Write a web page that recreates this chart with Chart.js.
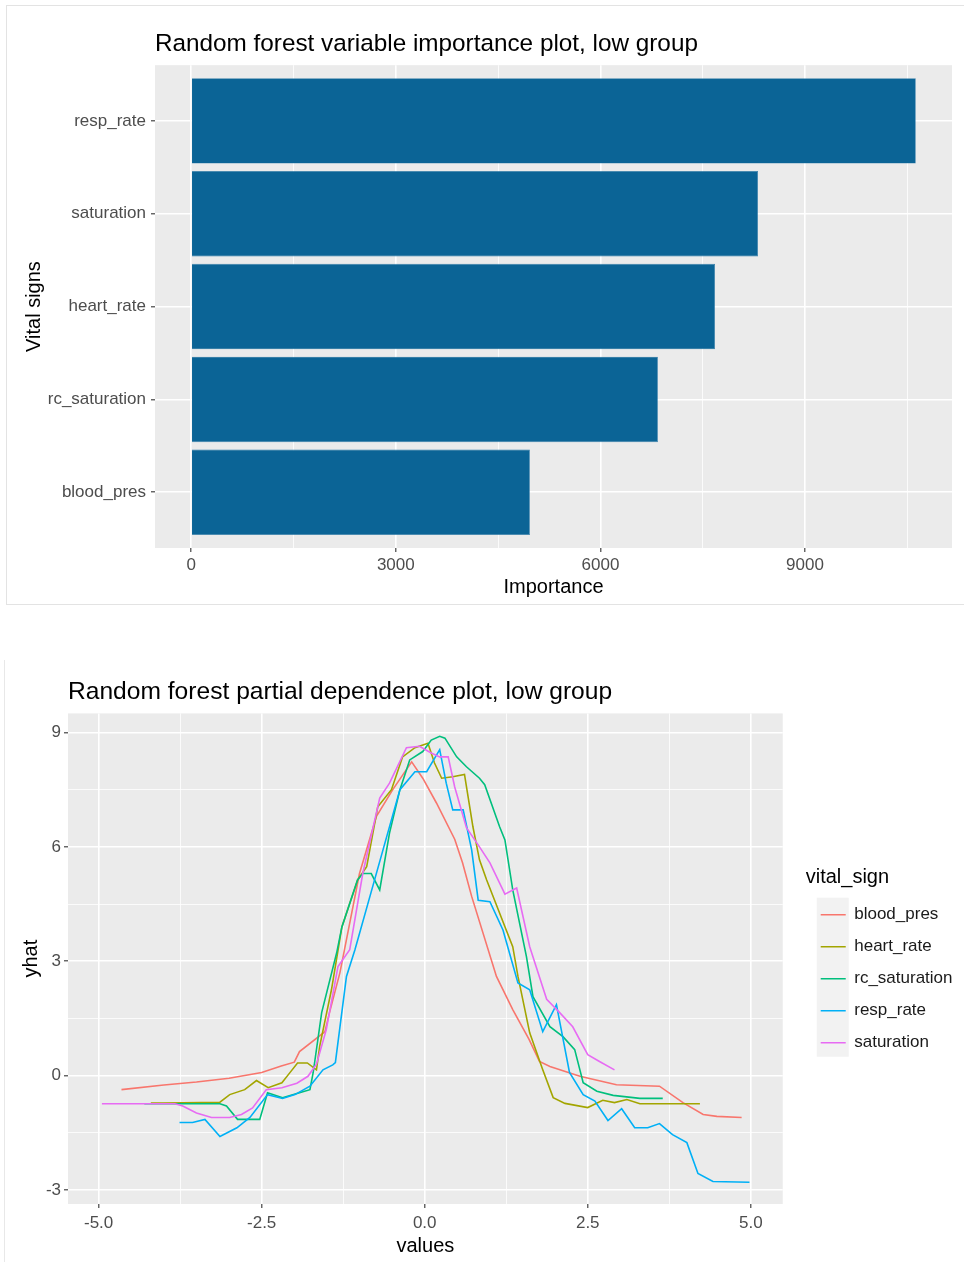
<!DOCTYPE html>
<html>
<head>
<meta charset="utf-8">
<script src="https://cdn.jsdelivr.net/npm/chart.js@4.4.1/dist/chart.umd.min.js"></script>
<style>
  html, body { margin: 0; padding: 0; background: #ffffff; }
  body { width: 964px; height: 1262px; position: relative; overflow: hidden; }
  #frameTop { position: absolute; left: 6px; top: 5px; width: 975px; height: 598px; border: 1px solid #E3E3E3; }
  #frameBottom { position: absolute; left: 4px; top: 660px; height: 620px; border-left: 1px solid #E8E8E8; }
  canvas { position: absolute; left: 0; }
  #impChart { top: 0; }
  #pdpChart { top: 604px; }
</style>
</head>
<body>
<div id="frameTop"></div>
<div id="frameBottom"></div>
<canvas id="impChart" width="964" height="604"></canvas>
<canvas id="pdpChart" width="964" height="658"></canvas>
<script>
// ---- Variable importance ----
const vitalSigns = ['resp_rate', 'saturation', 'heart_rate', 'rc_saturation', 'blood_pres'];
const importance = [10624, 8311, 7680, 6843, 4966];
const importanceTicks = [0, 1500, 3000, 4500, 6000, 7500, 9000, 10500];
const importanceLabelled = [0, 3000, 6000, 9000];

// ---- Partial dependence ----
const seriesNames = ['blood_pres', 'heart_rate', 'rc_saturation', 'resp_rate', 'saturation'];

const bloodPresX = [-4.65, -4.0, -3.5, -3.0, -2.5, -2.2, -2.0, -1.92, -1.53, -1.46, -1.3, -1.15, -1.0, -0.74, -0.49, -0.2, -0.03, 0.18, 0.46, 0.58, 0.72, 1.1, 1.35, 1.6, 1.76, 1.92, 2.38, 2.94, 3.6, 3.96, 4.27, 4.48, 4.86];
const bloodPresY = [-0.37, -0.25, -0.17, -0.07, 0.08, 0.25, 0.35, 0.63, 1.15, 1.65, 2.7, 4.0, 5.3, 6.8, 7.5, 8.23, 7.8, 7.15, 6.2, 5.58, 4.7, 2.6, 1.73, 0.95, 0.37, 0.24, -0.02, -0.24, -0.28, -0.71, -1.02, -1.07, -1.1];

const heartRateX = [-4.2, -4.0, -3.14, -2.99, -2.76, -2.58, -2.4, -2.19, -2.07, -1.95, -1.8, -1.66, -1.61, -1.43, -1.27, -1.03, -0.89, -0.72, -0.51, -0.34, -0.15, 0.05, 0.15, 0.26, 0.43, 0.61, 0.74, 0.84, 0.95, 1.35, 1.43, 1.61, 1.81, 1.97, 2.15, 2.5, 2.73, 2.91, 3.1, 3.3, 4.22];
const heartRateY = [-0.72, -0.72, -0.7, -0.5, -0.37, -0.13, -0.32, -0.19, 0.07, 0.33, 0.33, 0.15, 0.77, 2.25, 3.9, 5.13, 5.48, 7.05, 7.5, 8.36, 8.6, 8.72, 8.2, 7.8, 7.84, 7.9, 6.52, 5.66, 5.13, 3.38, 2.6, 1.12, 0.15, -0.58, -0.73, -0.84, -0.65, -0.71, -0.63, -0.74, -0.74];

const rcSaturationX = [-4.3, -3.14, -3.04, -2.87, -2.53, -2.41, -2.18, -1.92, -1.76, -1.71, -1.58, -1.35, -1.27, -1.03, -0.95, -0.82, -0.69, -0.54, -0.38, -0.23, -0.03, 0.1, 0.23, 0.31, 0.49, 0.64, 0.84, 0.92, 1.15, 1.23, 1.35, 1.56, 1.66, 1.92, 2.12, 2.3, 2.43, 2.64, 2.89, 3.3, 3.65];
const rcSaturationY = [-0.74, -0.74, -0.8, -1.15, -1.15, -0.45, -0.58, -0.45, -0.37, 0.08, 1.65, 3.22, 3.9, 5.13, 5.3, 5.3, 4.87, 6.36, 7.5, 8.28, 8.5, 8.8, 8.9, 8.85, 8.36, 8.1, 7.8, 7.63, 6.52, 6.18, 4.87, 3.12, 2.07, 1.28, 1.02, 0.68, -0.19, -0.41, -0.52, -0.6, -0.6];

const respRateX = [-3.76, -3.56, -3.37, -3.14, -2.88, -2.68, -2.41, -2.18, -1.99, -1.76, -1.56, -1.41, -1.37, -1.2, -1.07, -0.84, -0.38, -0.15, 0.03, 0.23, 0.33, 0.43, 0.59, 0.72, 0.82, 1.0, 1.2, 1.43, 1.61, 1.81, 2.02, 2.22, 2.43, 2.61, 2.81, 3.02, 3.22, 3.42, 3.6, 3.8, 4.02, 4.19, 4.42, 4.98];
const respRateY = [-1.23, -1.23, -1.15, -1.6, -1.37, -1.1, -0.5, -0.6, -0.5, -0.28, 0.15, 0.28, 0.34, 2.6, 3.3, 4.7, 7.5, 7.97, 7.97, 8.55, 7.67, 6.97, 6.97, 5.92, 4.6, 4.56, 3.82, 2.43, 2.25, 1.15, 1.86, 0.08, -0.5, -0.67, -1.18, -0.87, -1.37, -1.37, -1.26, -1.55, -1.76, -2.57, -2.78, -2.8];

const saturationX = [-4.95, -3.83, -3.71, -3.5, -3.27, -2.99, -2.81, -2.64, -2.43, -2.19, -1.96, -1.79, -1.66, -1.51, -1.33, -1.15, -0.95, -0.69, -0.54, -0.28, -0.08, 0.1, 0.23, 0.36, 0.46, 0.64, 0.84, 1.0, 1.23, 1.41, 1.61, 1.87, 2.07, 2.27, 2.5, 2.68, 2.91];
const saturationY = [-0.74, -0.74, -0.8, -0.98, -1.1, -1.1, -1.02, -0.85, -0.37, -0.32, -0.2, -0.02, 0.3, 1.2, 2.86, 3.3, 5.3, 7.28, 7.67, 8.6, 8.64, 8.46, 8.36, 8.36, 7.57, 6.5, 6.0, 5.58, 4.76, 4.92, 3.38, 2.0, 1.65, 1.28, 0.55, 0.37, 0.15];

const valueTicks = [-5, -3.75, -2.5, -1.25, 0, 1.25, 2.5, 3.75, 5];
const valueLabelled = [-5, -2.5, 0, 2.5, 5];
const yhatTicks = [-3, -1.5, 0, 1.5, 3, 4.5, 6, 7.5, 9];
const yhatLabelled = [-3, 0, 3, 6, 9];

// ---- styling ----
const FONT = "'Liberation Sans', Arial, sans-serif";
const TICK_COLOR = '#4D4D4D';
const BAR_COLOR = '#0B6496';
const HUE = ['#F8766D', '#A3A500', '#00BF7D', '#00B0F6', '#E76BF3'];

Chart.defaults.font.family = FONT;
Chart.defaults.color = TICK_COLOR;
Chart.defaults.animation = false;

const has = (list, v) => list.some(t => Math.abs(t - v) < 1e-9);
const setTicks = list => scale => { scale.ticks = list.map(v => ({ value: v })); };

// grey plotting panel, plus the grey backing of the legend keys
const panelBackground = {
  id: 'panelBackground',
  beforeDraw(chart, args, opts) {
    const { ctx, chartArea: a } = chart;
    ctx.save();
    ctx.fillStyle = opts.color || '#EBEBEB';
    ctx.fillRect(a.left, a.top, a.right - a.left, a.bottom - a.top);
    const lg = chart.legend;
    if (opts.keyColor && lg && lg.options.display && lg.legendHitBoxes && lg.legendHitBoxes.length) {
      const hb = lg.legendHitBoxes;
      const first = hb[0], last = hb[hb.length - 1];
      const keyW = lg.options.labels.pointStyleWidth;
      const c0 = first.top + first.height / 2;
      const c1 = last.top + last.height / 2;
      ctx.fillStyle = opts.keyColor;
      ctx.fillRect(first.left - 4, c0 - 17, keyW + 7, (c1 - c0) + 31);
    }
    ctx.restore();
  }
};

function gridOpts(labelled) {
  return {
    offset: false,
    color: '#FFFFFF',
    lineWidth: c => (c.tick && has(labelled, c.tick.value)) ? 1.6 : 0.8,
    tickColor: c => (c.tick && has(labelled, c.tick.value)) ? '#333333' : 'rgba(0,0,0,0)',
    tickLength: 4,
    tickWidth: 1.1,
    drawOnChartArea: true
  };
}

// ---- Chart 1: horizontal importance bars ----
new Chart(document.getElementById('impChart'), {
  type: 'bar',
  data: {
    datasets: [{
      label: 'Importance',
      data: importance.map((v, i) => ({ x: v, y: vitalSigns.length - i })),
      backgroundColor: BAR_COLOR,
      borderColor: '#2E7BAA',
      borderWidth: 0.6,
      barPercentage: 0.92,
      categoryPercentage: 1.0
    }]
  },
  options: {
    indexAxis: 'y',
    responsive: false,
    layout: { padding: { left: 0, right: 12, top: 0, bottom: 0 } },
    plugins: {
      legend: { display: false },
      tooltip: { enabled: false },
      title: {
        display: true,
        text: 'Random forest variable importance plot, low group',
        align: 'start',
        fullSize: false,
        color: '#000000',
        font: { size: 24.3, weight: 'normal' },
        padding: { top: 29.4, bottom: 6.6 }
      },
      panelBackground: { color: '#EBEBEB' }
    },
    scales: {
      x: {
        type: 'linear',
        offset: false,
        min: -531,
        max: 11155,
        afterBuildTicks: setTicks(importanceTicks),
        afterFit: s => { s.height = 56; },
        grid: gridOpts(importanceLabelled),
        border: { display: false },
        ticks: {
          autoSkip: false, maxRotation: 0, padding: 3,
          color: TICK_COLOR, font: { size: 17 },
          callback: v => has(importanceLabelled, v) ? String(v) : ''
        },
        title: { display: true, text: 'Importance', color: '#000000', font: { size: 20 }, padding: { top: 0, bottom: 5 } }
      },
      y: {
        type: 'linear',
        offset: false,
        min: 0.4,
        max: 5.6,
        afterBuildTicks: setTicks([1, 2, 3, 4, 5]),
        afterFit: s => { s.width = 155; },
        grid: gridOpts([1, 2, 3, 4, 5]),
        border: { display: false },
        ticks: {
          autoSkip: false, padding: 5,
          color: TICK_COLOR, font: { size: 17 },
          callback: v => vitalSigns[vitalSigns.length - v] || ''
        },
        title: { display: true, text: 'Vital signs', color: '#000000', font: { size: 20 }, padding: { top: 22, bottom: 0 } }
      }
    }
  },
  plugins: [panelBackground]
});

// ---- Chart 2: partial dependence lines ----
const pdpSeries = [
  [bloodPresX, bloodPresY],
  [heartRateX, heartRateY],
  [rcSaturationX, rcSaturationY],
  [respRateX, respRateY],
  [saturationX, saturationY]
];

new Chart(document.getElementById('pdpChart'), {
  type: 'line',
  data: {
    datasets: pdpSeries.map(([xs, ys], i) => ({
      label: seriesNames[i],
      data: xs.map((x, k) => ({ x, y: ys[k] })),
      borderColor: HUE[i],
      backgroundColor: HUE[i],
      borderWidth: 1.6,
      pointRadius: 0,
      tension: 0,
      fill: false,
      order: seriesNames.length - 1 - i,
      xAxisID: 'x',
      yAxisID: 'y'
    }))
  },
  options: {
    responsive: false,
    layout: { padding: { left: 0, right: 1.5, top: 0, bottom: 0 } },
    plugins: {
      tooltip: { enabled: false },
      title: {
        display: true,
        text: 'Random forest partial dependence plot, low group',
        align: 'start',
        fullSize: false,
        color: '#000000',
        font: { size: 24.6, weight: 'normal' },
        padding: { top: 73, bottom: 6.9 }
      },
      legend: {
        display: true,
        position: 'right',
        align: 'center',
        fullSize: false,
        title: { display: true, text: 'vital_sign', color: '#000000', font: { size: 20 }, position: 'start', padding: { top: 16, bottom: 0 } },
        labels: {
          usePointStyle: true,
          pointStyle: 'line',
          pointStyleWidth: 25,
          padding: 15,
          color: '#1A1A1A',
          font: { size: 17 },
          sort: (a, b) => a.datasetIndex - b.datasetIndex
        }
      },
      panelBackground: { color: '#EBEBEB', keyColor: '#F2F2F2' }
    },
    scales: {
      x: {
        type: 'linear',
        min: -5.47,
        max: 5.49,
        afterBuildTicks: setTicks(valueTicks),
        afterFit: s => { s.height = 58; },
        grid: gridOpts(valueLabelled),
        border: { display: false },
        ticks: {
          autoSkip: false, maxRotation: 0, padding: 5.5,
          color: TICK_COLOR, font: { size: 17 },
          callback: v => has(valueLabelled, v) ? v.toFixed(1) : ''
        },
        title: { display: true, text: 'values', color: '#000000', font: { size: 20 }, padding: { top: 0, bottom: 4 } }
      },
      y: {
        type: 'linear',
        position: 'left',
        min: -3.37,
        max: 9.5,
        afterBuildTicks: setTicks(yhatTicks),
        afterFit: s => { s.width = 68; },
        grid: gridOpts(yhatLabelled),
        border: { display: false },
        ticks: {
          autoSkip: false, padding: 3,
          color: TICK_COLOR, font: { size: 17 },
          callback: v => has(yhatLabelled, v) ? String(v) : ''
        },
        title: { display: true, text: 'yhat', color: '#000000', font: { size: 20 }, padding: { top: 19, bottom: 0 } }
      },
      gap: {
        type: 'linear',
        position: 'right',
        axis: 'y',
        display: true,
        grid: { display: false, drawTicks: false },
        border: { display: false },
        ticks: { display: false },
        afterFit: s => { s.width = 23; }
      }
    }
  },
  plugins: [panelBackground]
});
</script>
</body>
</html>
